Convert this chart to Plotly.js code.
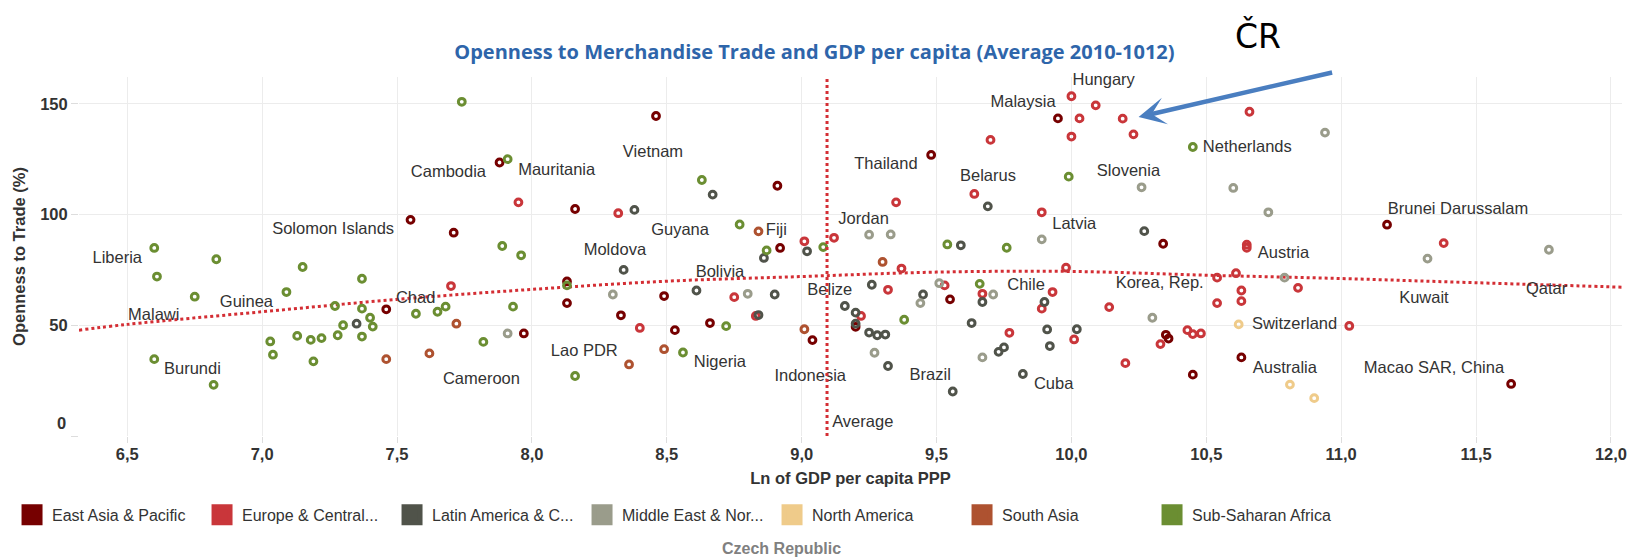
<!DOCTYPE html>
<html>
<head>
<meta charset="utf-8">
<script src="https://cdn.plot.ly/plotly-3.0.1.min.js"></script>
<style>
html,body{margin:0;padding:0;background:#ffffff;}
#chart{width:1647px;height:559px;}
</style>
</head>
<body>
<div id="chart"></div>
<script>
// ---------- DATA ----------
const regionNames = ["East Asia & Pacific","Europe & Central Asia","Latin America & Caribbean","Middle East & North Africa","North America","South Asia","Sub-Saharan Africa"];
const regionLegendLabels = ["East Asia & Pacific","Europe & Central...","Latin America & C...","Middle East & Nor...","North America","South Asia","Sub-Saharan Africa"];

// East Asia & Pacific
const eapX = [7.88,7.55,7.71,7.46,7.97,8.46,8.91,8.16,8.92,8.13,8.13,8.33,8.49,8.53,8.66,9.04,9.20,9.48,9.55,9.95,10.34,10.35,10.36,10.45,10.63,11.17,11.63];
const eapY = [123.5,97.6,91.8,57.2,46.3,144.5,113.0,102.5,84.9,69.8,60.0,54.5,63.2,47.8,51.0,43.3,49.3,126.9,61.7,143.4,86.8,45.7,44.0,27.7,35.5,95.4,23.5];

// Europe & Central Asia
const ecaX = [7.95,7.70,8.32,9.01,9.12,8.40,8.75,8.83,9.22,9.32,9.53,9.67,9.77,9.93,9.89,10.01,9.35,9.64,9.70,9.89,9.37,9.98,10.00,10.03,10.09,10.00,10.19,10.23,10.66,11.38,10.65,10.65,10.61,10.54,10.84,10.63,10.63,10.54,10.14,11.03,10.43,10.45,10.48,10.33,10.20];
const ecaY = [105.5,67.7,100.6,87.9,89.5,48.8,62.7,54.2,54.2,66.0,68.0,64.2,46.6,65.0,57.5,43.6,105.5,109.3,133.7,101.0,75.6,76.0,153.4,143.4,149.3,135.2,143.3,136.2,146.4,87.1,86.4,85.0,73.5,71.5,66.9,65.7,60.9,60.0,58.2,49.7,47.8,46.0,46.3,41.5,32.9];

// Latin America & Caribbean
const lacX = [7.35,8.38,8.67,8.86,9.02,8.34,9.69,9.59,8.61,8.84,8.90,9.16,9.20,9.20,9.25,9.28,9.31,9.32,9.26,9.45,9.67,9.63,9.75,9.73,9.56,9.82,9.90,9.91,9.92,10.02,10.27];
const lacY = [50.7,102.1,109.0,80.4,83.4,75.0,103.7,86.1,65.7,54.6,63.9,58.7,55.7,50.7,46.7,45.5,45.8,31.6,68.3,63.9,60.5,51.0,40.0,38.0,20.1,28.0,60.5,48.1,40.6,48.2,92.5];

// Middle East & North Africa
const menaX = [7.91,9.25,9.33,9.89,8.30,8.80,9.27,9.51,9.44,9.71,9.67,10.94,10.26,10.60,10.73,11.32,11.77,10.79,10.30];
const menaY = [46.3,90.9,91.0,88.8,63.9,64.2,37.6,69.0,60.0,63.9,35.5,137.0,112.3,112.0,101.0,80.1,84.1,71.5,53.4];

// North America
const naX = [10.62,10.81,10.90];
const naY = [50.4,23.2,17.1];

// South Asia
const saX = [7.46,7.62,7.72,8.84,9.30,8.49,8.36,9.01];
const saY = [34.7,37.3,50.7,92.4,78.6,39.2,32.3,48.2];

// Sub-Saharan Africa
const ssaX = [7.74,7.91,6.60,6.83,7.15,7.89,7.96,6.61,7.37,6.75,7.09,7.27,7.37,7.40,7.41,7.30,7.28,7.37,7.22,7.18,7.13,7.03,7.04,7.19,6.60,6.82,7.57,7.65,7.68,7.82,7.93,8.63,8.77,8.87,9.08,9.54,9.76,9.99,8.13,8.16,8.56,8.72,9.38,9.66,10.45];
const ssaY = [150.9,125.0,84.9,79.8,76.3,85.8,81.6,72.0,71.0,62.9,65.0,58.7,57.5,53.4,49.4,50.0,45.5,44.9,44.2,43.4,45.2,42.7,36.7,33.7,34.7,23.1,55.2,56.1,58.4,42.5,58.4,115.6,95.5,83.8,85.3,86.5,85.0,117.1,68.0,27.1,37.7,49.6,52.5,68.7,130.5];

// Trend line
const trendX = [6.321,6.5,7.0,7.5,8.0,8.5,9.0,9.5,10.0,10.5,11.0,11.5,12.041];
const trendY = [47.8,50.4,56.1,61.7,66.2,69.9,72.0,74.0,74.3,72.6,71.1,69.2,67.2];

// Average of Ln GDP per capita
const averageLn = 9.094;

// Mark labels (text, anchor at left edge / vertical middle)
const labelText = ["Hungary","Malaysia","Vietnam","Cambodia","Mauritania","Thailand","Belarus","Slovenia","Netherlands","Solomon Islands","Guyana","Fiji","Jordan","Latvia","Brunei Darussalam","Moldova","Liberia","Bolivia","Austria","Belize","Chile","Korea, Rep.","Kuwait","Qatar","Guinea","Chad","Malawi","Switzerland","Lao PDR","Nigeria","Indonesia","Brazil","Cuba","Australia","Macao SAR, China","Burundi","Cameroon","Average"];
const labelX = [10.004,9.700,8.337,7.551,7.949,9.195,9.587,10.094,10.487,7.037,8.442,8.867,9.136,9.929,11.173,8.192,6.371,8.607,10.691,9.021,9.762,10.164,11.215,11.685,6.843,7.496,6.503,10.669,8.070,8.600,8.899,9.400,9.861,10.672,11.084,6.636,7.670,9.113];
const labelY = [160.2,150.4,127.7,118.7,119.8,122.3,117.1,119.3,129.9,93.1,92.4,92.4,97.8,95.4,102.2,83.5,80.1,73.5,82.3,65.4,68.0,68.7,61.7,65.9,60.2,61.7,54.2,50.4,38.0,32.8,26.5,27.1,23.1,30.5,30.5,29.8,25.4,5.8];

const xTicks = [6.5,7.0,7.5,8.0,8.5,9.0,9.5,10.0,10.5,11.0,11.5,12.0];
const yTicks = [0,50,100,150];
const yTickText = ["","50","100","150"];

// ---------- STYLE ----------
const regionColors = ["#760000","#C9363A","#50534A","#9A9C8B","#EFCB8A","#AE5230","#6B8E32"];
const seriesX = [eapX,ecaX,lacX,menaX,naX,saX,ssaX];
const seriesY = [eapY,ecaY,lacY,menaY,naY,saY,ssaY];
const FONT = "Liberation Sans, Arial, sans-serif";

const traces = [];

// trend line
traces.push({
  type:"scatter", mode:"lines", x:trendX, y:trendY,
  line:{color:"#D42E34", width:3, dash:"dot", shape:"spline", smoothing:1},
  showlegend:false, hoverinfo:"skip"
});

// points
seriesX.forEach(function(xs,i){
  traces.push({
    type:"scatter", mode:"markers", x:xs, y:seriesY[i], name:regionNames[i],
    legendgroup:"g"+i, showlegend:false,
    marker:{symbol:"circle-open", size:6.8, color:regionColors[i], line:{width:3, color:regionColors[i]}},
    cliponaxis:false
  });
});

// legend entries (square swatches)
regionLegendLabels.forEach(function(lbl,i){
  traces.push({
    type:"scatter", mode:"markers", x:[null], y:[null], name:lbl,
    legendgroup:"g"+i, showlegend:true, hoverinfo:"skip",
    marker:{symbol:"square", size:16, color:regionColors[i], line:{width:5, color:regionColors[i]}}
  });
});

// labels
traces.push({
  type:"scatter", mode:"text", x:labelX, y:labelY, text:labelText,
  textposition:"middle right",
  textfont:{family:FONT, size:16.5, color:"#333333"},
  showlegend:false, hoverinfo:"skip", cliponaxis:false
});

const layout = {
  width:1647, height:559,
  margin:{l:77, r:25, t:77, b:123},
  separators:",.",
  paper_bgcolor:"#ffffff", plot_bgcolor:"#ffffff",
  font:{family:FONT, color:"#333333"},
  title:{
    text:"Openness to Merchandise Trade and GDP per capita (Average 2010-1012)",
    font:{family:"Open Sans, sans-serif", size:20, color:"#2E65AA", weight:"bold"},
    xref:"container", x:0.4945, xanchor:"center",
    yref:"container", y:1-52/559, yanchor:"middle"
  },
  xaxis:{
    range:[6.321,12.041], tickvals:xTicks, tickformat:".1f",
    showgrid:true, gridcolor:"#ececec", gridwidth:1,
    zeroline:false, showline:false,
    ticks:"outside", ticklen:6, tickcolor:"#dddddd", ticklabelstandoff:-3,
    tickfont:{family:FONT, size:16.5, color:"#333333", weight:"bold"},
    title:{text:"Ln of GDP per capita PPP", font:{family:FONT, size:16.5, color:"#333333", weight:"bold"}, standoff:10}
  },
  yaxis:{
    range:[0,162.1], tickvals:yTicks, ticktext:yTickText,
    showgrid:true, gridcolor:"#ececec", gridwidth:1,
    zeroline:false, showline:false,
    ticks:"outside", ticklen:7, tickcolor:"#dddddd",
    tickfont:{family:FONT, size:16.5, color:"#333333", weight:"bold"},
    title:{text:"Openness to Trade (%)", font:{family:FONT, size:16.5, color:"#333333", weight:"bold"}, standoff:10}
  },
  showlegend:true,
  legend:{
    orientation:"h", x:-0.0434, xanchor:"left", y:-0.2197, yanchor:"middle",
    font:{family:FONT, size:16, color:"#333333"},
    entrywidth:145, entrywidthmode:"pixels", itemclick:false, itemdoubleclick:false,
    bgcolor:"rgba(0,0,0,0)", traceorder:"normal", itemsizing:"trace"
  },
  shapes:[{
    type:"line", xref:"x", yref:"paper", x0:averageLn, x1:averageLn, y0:0, y1:1,
    line:{color:"#D42E34", width:3, dash:"dot"}, layer:"above"
  }],
  annotations:[
    {xref:"paper", yref:"y", x:0, y:0, xanchor:"right", yanchor:"middle", xshift:-11, yshift:13,
     text:"0", showarrow:false, font:{family:FONT, size:16.5, color:"#333333", weight:"bold"}},
    {xref:"paper", yref:"paper", x:(780-77)/1545, y:(435.7-548)/358.7, xanchor:"center", yanchor:"middle",
     text:"Czech Republic", showarrow:false, font:{family:FONT, size:16, color:"#808080", weight:"bold"}},
    {xref:"paper", yref:"paper", x:(1258-77)/1545, y:(435.7-36)/358.7, xanchor:"center", yanchor:"middle",
     text:"ČR", showarrow:false, font:{family:"DejaVu Sans, sans-serif", size:33, color:"#000000"}},
    {xref:"x", yref:"y", x:10.249, y:144.0, ax:195, ay:-45, axref:"pixel", ayref:"pixel",
     text:"", showarrow:true, arrowhead:3, arrowsize:1, arrowwidth:4.5, arrowcolor:"#4A7EC0", standoff:0}
  ]
};

Plotly.newPlot("chart", traces, layout, {displayModeBar:false, staticPlot:true});
</script>
</body>
</html>
